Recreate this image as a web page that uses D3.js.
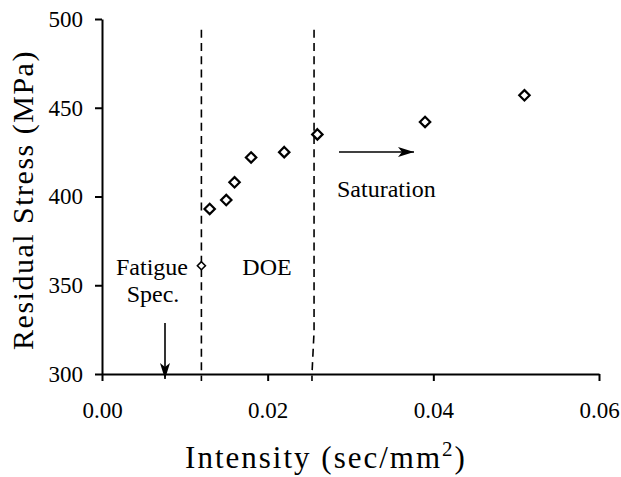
<!DOCTYPE html>
<html>
<head>
<meta charset="utf-8">
<script src="https://cdn.jsdelivr.net/npm/d3@7"></script>
<style>
    body { margin: 0; background: #ffffff; }
    text { font-family: "Liberation Serif", "Times New Roman", serif; fill: #000000; }
</style>
</head>
<body>
<div id="chart"></div>
<script>
///////////////////////////////////////////////////////////////////////////////////////////////////
// data

var intensity = [0.0120, 0.0130, 0.0150, 0.0160, 0.0180, 0.0220, 0.0260, 0.0390, 0.0510];
var residual_stress = [361, 393, 398, 408, 422, 425, 435, 442, 457];

var x_ticks = [0.00, 0.02, 0.04, 0.06];
var y_ticks = [300, 350, 400, 450, 500];

// boundaries of the DOE window (the right one has a small kink near the bottom)
var doe_left = [[0.0120, 494], [0.0120, 296]];
var doe_right = [[0.0256, 494], [0.0256, 324], [0.02535, 300], [0.02535, 296]];

///////////////////////////////////////////////////////////////////////////////////////////////////

function draw_chart(element_id) {

    var svg_width = 621;
    var svg_height = 477;
    var margin = { top: 19, right: 22, bottom: 103, left: 102 };

    var svg = d3.select('#' + element_id)
      .append("svg")
        .attr("width", svg_width)
        .attr("height", svg_height);

    svg.append("rect")
        .attr("width", svg_width)
        .attr("height", svg_height)
        .attr("fill", "#ffffff");

    var x = d3.scaleLinear()
        .domain([0, 0.06])
        .range([margin.left, svg_width - margin.right]);
    var y = d3.scaleLinear()
        .domain([300, 500])
        .range([svg_height - margin.bottom, margin.top]);

    // arrow head marker
    svg.append("defs").append("marker")
        .attr("id", "arrow_head")
        .attr("viewBox", "0 0 16 10")
        .attr("refX", 16)
        .attr("refY", 5)
        .attr("markerWidth", 16)
        .attr("markerHeight", 10)
        .attr("markerUnits", "userSpaceOnUse")
        .attr("orient", "auto")
      .append("path")
        .attr("d", "M0,0 L16,5 L0,10 L4,5 Z")
        .attr("fill", "#000000");

    // dashed DOE boundaries
    var line = d3.line()
        .x(function(d) { return x(d[0]); })
        .y(function(d) { return y(d[1]); });

    [doe_left, doe_right].forEach(function(pts) {
        svg.append("path")
            .attr("d", line(pts))
            .attr("fill", "none")
            .attr("stroke", "#000000")
            .attr("stroke-width", 1.6)
            .attr("stroke-dasharray", "8,5.3");
    });

    // x axis
    var x_axis = svg.append("g")
        .attr("transform", "translate(0," + y(300) + ")")
        .call(d3.axisBottom(x)
            .tickValues(x_ticks)
            .tickSize(7)
            .tickPadding(21)
            .tickSizeOuter(0)
            .tickFormat(d3.format(".2f")));

    // y axis
    var y_axis = svg.append("g")
        .attr("transform", "translate(" + x(0) + ",0)")
        .call(d3.axisLeft(y)
            .tickValues(y_ticks)
            .tickSize(7)
            .tickPadding(12)
            .tickSizeOuter(0));

    [x_axis, y_axis].forEach(function(ax) {
        ax.select(".domain").attr("stroke", "#000000").attr("stroke-width", 2);
        ax.selectAll(".tick line").attr("stroke", "#000000").attr("stroke-width", 2);
        ax.selectAll(".tick text")
            .attr("font-family", "Liberation Serif, Times New Roman, serif")
            .attr("font-size", 23)
            .attr("fill", "#000000");
    });

    // axis titles
    var x_title = svg.append("text")
        .attr("x", 326)
        .attr("y", 468)
        .attr("text-anchor", "middle")
        .style("font-size", "31px")
        .style("letter-spacing", "2px");
    x_title.append("tspan").text("Intensity (sec/mm");
    x_title.append("tspan").attr("dy", -12).style("font-size", "21px").text("2");
    x_title.append("tspan").attr("dy", 12).text(")");

    svg.append("text")
        .attr("transform", "translate(33,200) rotate(-90)")
        .attr("text-anchor", "middle")
        .style("font-size", "30px")
        .style("letter-spacing", "1.5px")
        .text("Residual Stress (MPa)");

    // data points as open diamonds
    svg.selectAll(".point")
        .data(intensity)
        .join("path")
            .attr("class", "point")
            .attr("transform", function(d, i) {
                return "translate(" + x(d) + "," + y(residual_stress[i]) + ")";
            })
            .attr("d", function(d, i) {
                let r = (i === 0) ? 4 : 5.2;
                return "M0," + (-r) + "L" + r + ",0L0," + r + "L" + (-r) + ",0Z";
            })
            .attr("fill", "#ffffff")
            .attr("stroke", "#000000")
            .attr("stroke-width", function(d, i) { return (i === 0) ? 1.6 : 2.2; });

    // annotations
    svg.append("text")
        .attr("x", 152)
        .attr("y", 275)
        .attr("text-anchor", "middle")
        .style("font-size", "24px")
        .text("Fatigue");
    svg.append("text")
        .attr("x", 153)
        .attr("y", 302)
        .attr("text-anchor", "middle")
        .style("font-size", "24px")
        .text("Spec.");
    svg.append("text")
        .attr("x", 267)
        .attr("y", 275)
        .attr("text-anchor", "middle")
        .style("font-size", "24px")
        .text("DOE");
    svg.append("text")
        .attr("x", 337)
        .attr("y", 197)
        .style("font-size", "24px")
        .text("Saturation");

    svg.append("line")
        .attr("x1", 165).attr("y1", 323)
        .attr("x2", 165).attr("y2", 379)
        .attr("stroke", "#000000")
        .attr("stroke-width", 1.6)
        .attr("marker-end", "url(#arrow_head)");

    svg.append("line")
        .attr("x1", 339).attr("y1", 152)
        .attr("x2", 414).attr("y2", 152)
        .attr("stroke", "#000000")
        .attr("stroke-width", 1.6)
        .attr("marker-end", "url(#arrow_head)");

} // end function

draw_chart("chart");
</script>
</body>
</html>
